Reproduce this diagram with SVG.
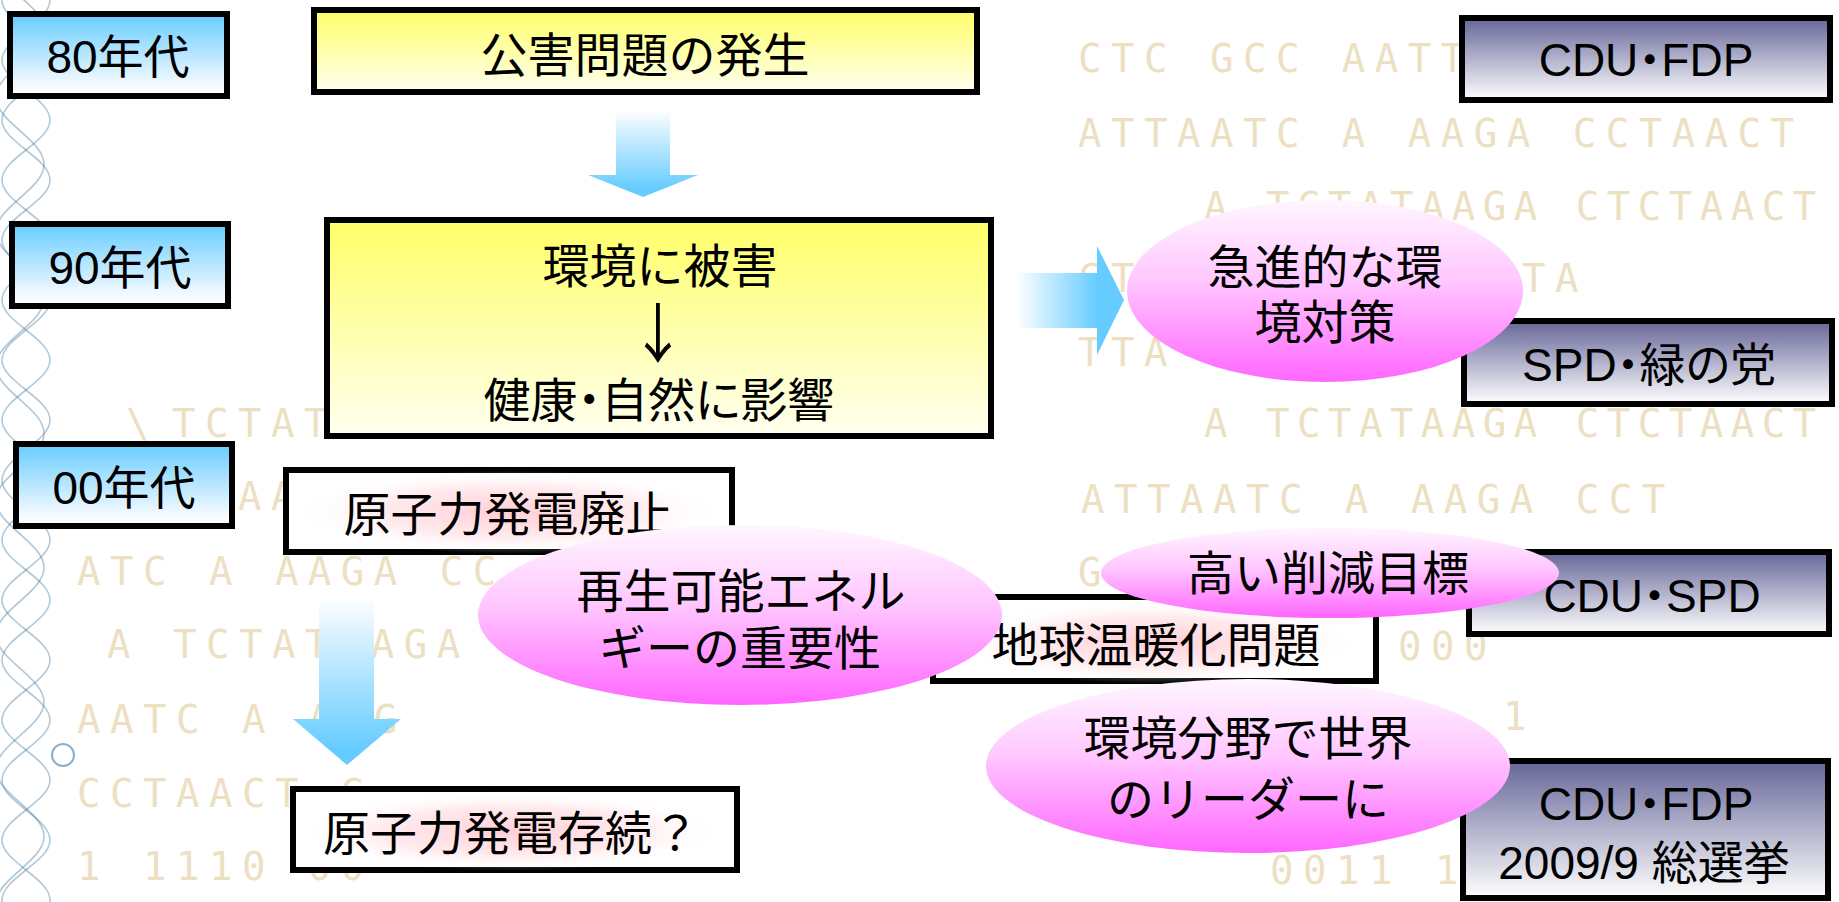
<svg xmlns="http://www.w3.org/2000/svg" xmlns:xlink="http://www.w3.org/1999/xlink" width="1839" height="902" viewBox="0 0 1839 902">
<style>
.box{stroke:#000;stroke-width:6}
.t{font-family:"Liberation Sans","Noto Sans CJK JP",sans-serif;font-size:47px;fill:#000;text-anchor:middle}
.lat{font-size:46px}
.palt{font-feature-settings:"palt"}
.arw{font-family:"Noto Sans CJK JP",sans-serif;font-size:47px;fill:#000;text-anchor:middle}
.dna{font-family:"DejaVu Sans Mono",monospace;font-size:39px;fill:#ede0c2;letter-spacing:9.5px}
.dn2{letter-spacing:7.5px}
.wave{fill:none;stroke:#4f86a8;stroke-width:1.6;opacity:0.45}
</style>
<defs>
<linearGradient id="gBlue" x1="0" y1="0" x2="0" y2="1"><stop offset="0" stop-color="#66ccff"/><stop offset="0.85" stop-color="#f2f9ff"/><stop offset="1" stop-color="#ffffff"/></linearGradient>
<linearGradient id="gYellow" x1="0" y1="0" x2="0" y2="1"><stop offset="0" stop-color="#ffff66"/><stop offset="1" stop-color="#fffff0"/></linearGradient>
<linearGradient id="gSlate" x1="0" y1="0" x2="0" y2="1"><stop offset="0" stop-color="#666699"/><stop offset="1" stop-color="#ffffff"/></linearGradient>
<linearGradient id="gPink" x1="0" y1="0" x2="0" y2="1"><stop offset="0" stop-color="#fff6ff"/><stop offset="0.45" stop-color="#ffc6ff"/><stop offset="1" stop-color="#ff66ff"/></linearGradient>
<linearGradient id="gDown" x1="0" y1="0" x2="0" y2="1"><stop offset="0" stop-color="#ffffff"/><stop offset="0.9" stop-color="#66ccff"/></linearGradient>
<linearGradient id="gRight" x1="0" y1="0" x2="1" y2="0"><stop offset="0" stop-color="#ffffff"/><stop offset="0.75" stop-color="#66ccff"/></linearGradient>
<radialGradient id="gGlow"><stop offset="0" stop-color="#ffc4cc" stop-opacity="0.85"/><stop offset="0.6" stop-color="#ffd6dc" stop-opacity="0.5"/><stop offset="1" stop-color="#ffffff" stop-opacity="0"/></radialGradient>
<path id="wave" d="M2,-60 C2,-38 50,-22 50,0 S2,38 2,60 S50,98 50,120 S2,158 2,180 S50,218 50,240 S2,278 2,300 S50,338 50,360 S2,398 2,420 S50,458 50,480 S2,518 2,540 S50,578 50,600 S2,638 2,660 S50,698 50,720 S2,758 2,780 S50,818 50,840 S2,878 2,900 S50,938 50,960"/>
</defs>
<rect x="0" y="0" width="1839" height="902" fill="#ffffff"/>
<g id="background">
<use xlink:href="#wave" class="wave"/>
<use xlink:href="#wave" class="wave" transform="translate(52,0) scale(-1,1)"/>
<use xlink:href="#wave" class="wave" transform="translate(-6,30) scale(1,1.12)"/>
<circle cx="63" cy="755" r="11" fill="none" stroke="#5b8fb5" stroke-width="2" opacity="0.7"/>
<text class="dna" x="1078" y="72">CTC GCC AATTA</text>
<text class="dna" x="1078" y="147">ATTAATC A AAGA CCTAACT</text>
<text class="dna dn2" x="1204" y="220">A TCTATAAGA CTCTAACT</text>
<text class="dna" x="1078" y="292">CT</text>
<text class="dna" x="1522" y="292">TA</text>
<text class="dna" x="1078" y="366">TTA</text>
<text class="dna dn2" x="1204" y="437">A TCTATAAGA CTCTAACT</text>
<text class="dna" x="1081" y="513">ATTAATC A AAGA CCT</text>
<text class="dna" x="1078" y="586">G</text>
<text class="dna" x="1398" y="660">000</text>
<text class="dna" x="1503" y="730">1</text>
<text class="dna" x="1270" y="884">0011 1</text>
<text class="dna" x="126" y="437">\</text>
<text class="dna" x="172" y="437">TCTAT</text>
<text class="dna" x="238" y="510">AA</text>
<text class="dna" x="77" y="585">ATC A AAGA CC</text>
<text class="dna" x="107" y="658">A TCTATAAGA</text>
<text class="dna" x="77" y="733">AATC A AAG</text>
<text class="dna" x="77" y="807">CCTAACT G</text>
<text class="dna" x="77" y="880">1 1110 00</text>
</g>
<g id="era80"><rect class="box" x="10" y="14" width="217" height="82" fill="url(#gBlue)"/><text class="t lat" x="118" y="73">80年代</text></g>
<g id="era90"><rect class="box" x="12" y="224" width="216" height="82" fill="url(#gBlue)"/><text class="t lat" x="120" y="284">90年代</text></g>
<g id="era00"><rect class="box" x="16" y="444" width="216" height="82" fill="url(#gBlue)"/><text class="t lat" x="124" y="504">00年代</text></g>
<g id="connectors">
<polygon points="616,110 670,110 670,175 698,175 643,197 588,175 616,175" fill="url(#gDown)"/>
<polygon points="319,597 374,597 374,719 401,719 347,765 293,719 319,719" fill="url(#gDown)"/>
<polygon points="1016,273 1097,273 1097,246 1124,300 1097,355 1097,328 1016,328" fill="url(#gRight)"/>
</g>
<g id="kougai"><rect class="box" x="314" y="10" width="663" height="82" fill="url(#gYellow)"/><text class="t" x="645" y="72">公害問題の発生</text></g>
<g id="kankyo-higai"><rect class="box" x="327" y="220" width="664" height="216" fill="url(#gYellow)"/>
<text class="t" x="660" y="283">環境に被害</text>
<text class="arw" transform="translate(658,357) scale(1.2,1.38)" x="0" y="0">↓</text>
<text class="t palt" x="659" y="417">健康・自然に影響</text></g>
<g id="genshiryoku-haishi"><rect class="box" x="286" y="470" width="446" height="82" fill="#ffffff"/><ellipse cx="508" cy="512" rx="215" ry="42" fill="url(#gGlow)"/><text class="t" x="508" y="531">原子力発電廃止</text></g>
<g id="genshiryoku-sonzoku"><rect class="box" x="293" y="789" width="444" height="81" fill="#ffffff"/><ellipse cx="511" cy="831" rx="215" ry="40" fill="url(#gGlow)"/><text class="t" x="511" y="850">原子力発電存続？</text></g>
<g id="chikyu-ondanka"><rect class="box" x="933" y="597" width="443" height="84" fill="#ffffff"/><ellipse cx="1156" cy="642" rx="205" ry="42" fill="url(#gGlow)"/><text class="t" x="1156" y="662">地球温暖化問題</text></g>
<g id="party-cdu-fdp"><rect class="box" x="1462" y="18" width="368" height="82" fill="url(#gSlate)"/><text class="t lat palt" x="1646" y="76">CDU・FDP</text></g>
<g id="party-spd-green"><rect class="box" x="1464" y="321" width="368" height="83" fill="url(#gSlate)"/><text class="t lat palt" x="1649" y="381">SPD・緑の党</text></g>
<g id="party-cdu-spd"><rect class="box" x="1469" y="552" width="360" height="82" fill="url(#gSlate)"/><text class="t lat palt" x="1652" y="612">CDU・SPD</text></g>
<g id="party-cdu-fdp-2009"><rect class="box" x="1463" y="761" width="365" height="137" fill="url(#gSlate)"/><text class="t lat palt" x="1646" y="820">CDU・FDP</text><text class="t lat" x="1644" y="879">2009/9 総選挙</text></g>
<g id="kyushinteki"><ellipse cx="1325" cy="291" rx="198" ry="91" fill="url(#gPink)"/><text class="t" x="1325" y="284">急進的な環</text><text class="t" x="1325" y="339">境対策</text></g>
<g id="saisei"><ellipse cx="740" cy="615" rx="262" ry="90" fill="url(#gPink)"/><text class="t" x="741" y="608">再生可能エネル</text><text class="t" x="740" y="665">ギーの重要性</text></g>
<g id="takai-sakugen"><ellipse cx="1330" cy="573" rx="229" ry="45" fill="url(#gPink)"/><text class="t" x="1328" y="590">高い削減目標</text></g>
<g id="kankyo-leader"><ellipse cx="1248" cy="766" rx="262" ry="87" fill="url(#gPink)"/><text class="t" x="1248" y="755">環境分野で世界</text><text class="t" x="1248" y="816">のリーダーに</text></g>
</svg>
